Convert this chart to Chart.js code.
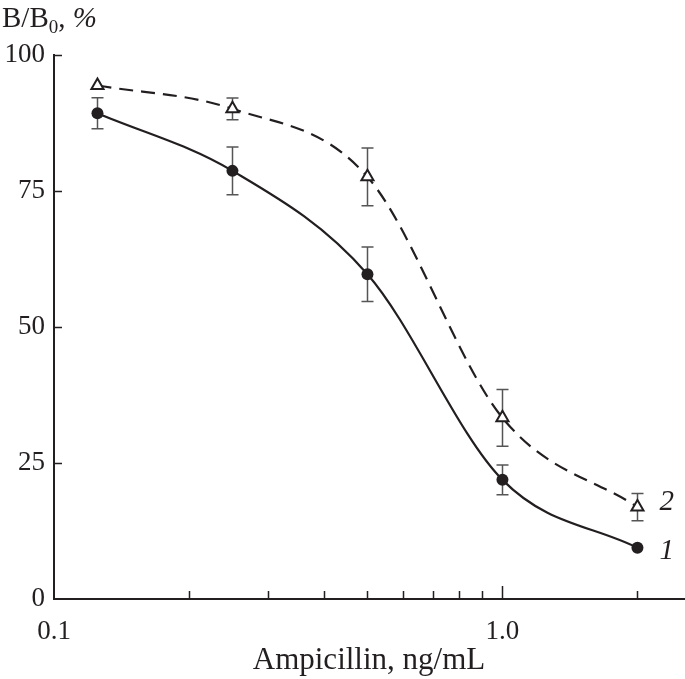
<!DOCTYPE html>
<html>
<head>
<meta charset="utf-8">
<script src="https://cdn.jsdelivr.net/npm/chart.js@4"></script>
<style>
  body { margin: 0; background: #fff; overflow: hidden; }
  #wrap { width: 685px; height: 679px; overflow: hidden; }
</style>
</head>
<body>
<div id="wrap"><canvas id="myChart" width="693" height="679"></canvas></div>
<script>
// concentrations, ng/mL
const concentrations = [0.125, 0.25, 0.5, 1, 2];
// curve 1 (solid, filled circles)
const series1 = [89.3, 78.7, 59.7, 21.9, 9.4];
const series1Err = [2.85, 4.4, 5.0, 2.75, 0];
// curve 2 (dashed, open triangles)
const series2 = [94.4, 90.1, 77.6, 33.3, 16.9];
const series2Err = [0, 2.0, 5.3, 5.2, 2.5];

const xTickValues = [0.1, 0.2, 0.3, 0.4, 0.5, 0.6, 0.7, 0.8, 0.9, 1, 2];
const xTickLabels = { 0.1: '0.1', 1: '1.0' };
const yTickValues = [0, 25, 50, 75, 100];

const serif = '"Liberation Serif", "Times New Roman", serif';
const ink = '#231f20';

function pts(ys) {
    return concentrations.map((c, i) => ({ x: c, y: ys[i] }));
}

const errorBars = {
    id: 'errorBars',
    beforeDatasetsDraw(chart) {
        const ctx = chart.ctx;
        const xs = chart.scales.x, ys = chart.scales.y;
        const sets = [[series1, series1Err], [series2, series2Err]];
        ctx.save();
        ctx.strokeStyle = '#555';
        ctx.lineWidth = 1.5;
        sets.forEach(([vals, errs]) => {
            vals.forEach((v, i) => {
                if (!errs[i]) return;
                const px = Math.round(xs.getPixelForValue(concentrations[i])) + 0.5;
                const top = ys.getPixelForValue(v + errs[i]);
                const bot = ys.getPixelForValue(v - errs[i]);
                ctx.beginPath();
                ctx.moveTo(px, top); ctx.lineTo(px, bot);
                ctx.moveTo(px - 6, top); ctx.lineTo(px + 6, top);
                ctx.moveTo(px - 6, bot); ctx.lineTo(px + 6, bot);
                ctx.stroke();
            });
        });
        ctx.restore();
    }
};

const extras = {
    id: 'extras',
    afterDraw(chart) {
        const ctx = chart.ctx;
        const xs = chart.scales.x, ys = chart.scales.y;
        const area = chart.chartArea;
        ctx.save();
        // inward ticks
        ctx.strokeStyle = ink;
        ctx.lineWidth = 1.5;
        ctx.beginPath();
        xTickValues.forEach(v => {
            if (v === 0.1) return;
            const px = Math.round(xs.getPixelForValue(v)) + 0.5;
            const len = v === 1 ? 13 : 8;
            ctx.moveTo(px, area.bottom); ctx.lineTo(px, area.bottom - len);
        });
        yTickValues.forEach(v => {
            if (v === 0) return;
            const py = Math.round(ys.getPixelForValue(v)) + 0.5;
            ctx.moveTo(area.left, py); ctx.lineTo(area.left + 8, py);
        });
        ctx.stroke();

        // y axis title B/B0, %
        ctx.fillStyle = ink;
        ctx.textBaseline = 'alphabetic';
        ctx.textAlign = 'left';
        let x = 2;
        const base = 27;
        ctx.font = '29px ' + serif;
        ctx.fillText('B/B', x, base);
        x += ctx.measureText('B/B').width;
        ctx.font = '19px ' + serif;
        ctx.fillText('0', x, base + 6);
        x += ctx.measureText('0').width;
        ctx.font = '29px ' + serif;
        ctx.fillText(', ', x, base);
        x += ctx.measureText(', ').width;
        ctx.font = 'italic 29px ' + serif;
        ctx.fillText('%', x, base);

        // curve numbers
        ctx.font = 'italic 29px ' + serif;
        ctx.textBaseline = 'middle';
        const lx = xs.getPixelForValue(2) + 22;
        ctx.fillText('2', lx, ys.getPixelForValue(series2[4]) - 5);
        ctx.fillText('1', lx, ys.getPixelForValue(series1[4]) + 4);
        ctx.restore();
    }
};

const data = {
    datasets: [{
        label: '1',
        data: pts(series1),
        borderColor: ink,
        backgroundColor: ink,
        borderWidth: 2.2,
        pointRadius: 6,
        pointBorderWidth: 0,
        pointStyle: 'circle',
        cubicInterpolationMode: 'monotone'
    }, {
        label: '2',
        data: pts(series2),
        borderColor: ink,
        backgroundColor: '#fff',
        borderWidth: 2.2,
        borderDash: [14, 8],
        pointRadius: 7,
        pointBorderWidth: 2,
        pointStyle: 'triangle',
        cubicInterpolationMode: 'monotone'
    }]
};

const config = {
    type: 'line',
    data: data,
    plugins: [errorBars, extras],
    options: {
        responsive: false,
        animation: false,
        layout: { padding: { top: 55, right: 0, left: 0, bottom: 0 } },
        plugins: {
            legend: { display: false },
            tooltip: { enabled: false }
        },
        scales: {
            x: {
                type: 'logarithmic',
                min: 0.1,
                max: 2.54,
                afterBuildTicks: scale => {
                    scale.ticks = xTickValues.map(v => ({ value: v }));
                },
                afterFit: scale => { scale.height = 80; },
                grid: { display: false, drawTicks: false },
                border: { display: true, color: ink, width: 2 },
                ticks: {
                    autoSkip: false,
                    maxRotation: 0,
                    padding: 17,
                    color: ink,
                    font: { family: serif, size: 27 },
                    callback: v => xTickLabels[v] || ''
                },
                title: {
                    display: true,
                    text: 'Ampicillin, ng/mL',
                    color: ink,
                    font: { family: serif, size: 31 },
                    padding: { top: 0, bottom: 0 }
                }
            },
            y: {
                min: 0,
                max: 100,
                afterBuildTicks: scale => {
                    scale.ticks = yTickValues.map(v => ({ value: v }));
                },
                afterFit: scale => { scale.width = 54; },
                grid: { display: false, drawTicks: false },
                border: { display: true, color: ink, width: 2 },
                ticks: {
                    padding: 9,
                    color: ink,
                    font: { family: serif, size: 27 }
                }
            }
        }
    }
};

let myChart = new Chart(document.getElementById('myChart'), config);
</script>
</body>
</html>
